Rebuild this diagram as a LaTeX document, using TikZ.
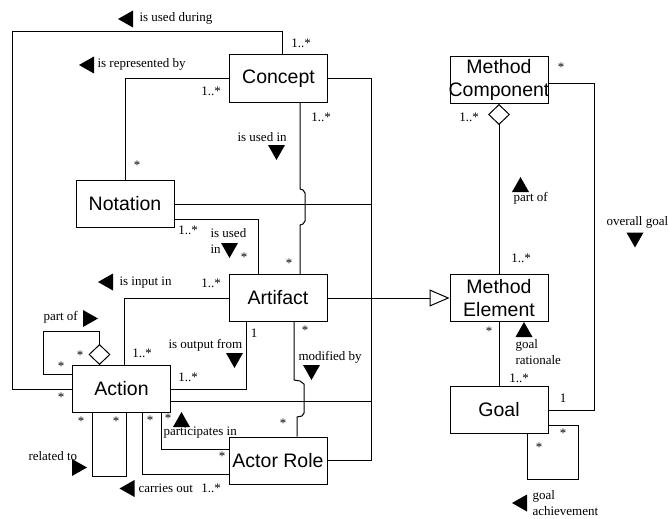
\documentclass[tikz,border=0pt]{standalone}
\usepackage{fontspec}
\setmainfont{Liberation Serif}
\setsansfont{Liberation Sans}
\usetikzlibrary{calc,arrows.meta}

\begin{document}
\begin{tikzpicture}[x=1pt,y=-1pt,line width=1pt,
		cls/.style={draw,fill=white,font=\sffamily\fontsize{19.5}{23}\selectfont,minimum width=98pt,minimum height=47pt,inner sep=0pt,align=center},
		lbl/.style={font=\fontsize{13}{15.5}\selectfont,inner sep=0pt,anchor=west,align=left},
		mul/.style={font=\fontsize{13}{15}\selectfont,inner sep=0pt},
		pics/pointer/.style={code={\fill[rotate=#1] (-7.5,0) -- (7.5,-8.5) -- (7.5,8.5) -- cycle;}},
		agg/.style={{Diamond[open,length=21pt,width=22pt]}-},
		gen/.style={-{Triangle[open,length=20pt,width=17pt]}}]
			\useasboundingbox (0,0) rectangle (669,519);
			
			\node[cls] (concept) at (278.5,78.5) {Concept};
			\node[cls] (notation) at (125,204) {Notation};
			\node[cls] (artifact) at (278,298) {Artifact};
			\node[cls] (action) at (121.5,389) {Action};
			\node[cls] (actor) at (278,460.5) {Actor Role};
			\node[cls] (mcomp) at (499,80) {Method\\\makebox[90pt]{Component}};
			\node[cls] (melem) at (499,298) {Method\\Element};
			\node[cls] (goal) at (499,410) {Goal};
			
			\coordinate (bus) at (371,0);
			\coordinate (og) at (594,83);
			\coordinate (actR) at ([yshift=-12pt]action.east);
			
			\draw ([xshift=3.5pt]concept.north) |- (12,32) |- (action.west);
			\draw (concept.west) -| (notation.north);
			\draw (concept.east) -| (actor.east -| bus) -- (actor.east);
			\draw ([xshift=21.5pt]concept.south) -- (300,189) -- ++(3,1) -- ++(2,3) -- ++(0,28) -- ++(-2,3) -- ++(-3,1) -- ([xshift=22pt]artifact.north);
			\draw (notation.east) -- (notation.east -| bus);
			\draw ([yshift=-15pt]notation.east) -| ([xshift=-20pt]artifact.north);
			\draw[gen] (artifact.east) -- (melem.west);
			\draw (artifact.west) -| ([xshift=2.5pt]action.north);
			\draw ([xshift=-32pt]artifact.south) |- (action.east);
			\draw ([xshift=16pt]artifact.south) -- (294,380) -- ++(6,1) -- ++(4,3) -- ++(0,29) -- ++(-2,3) -- ++(-5,1) -- ([xshift=19pt]actor.north);
			\draw[agg] ([xshift=-22pt]action.north) |- (43,331) |- ([yshift=15pt]action.west);
			\draw (actR) -- (actR -| bus);
			\draw ([xshift=-29.5pt]action.south) -- ++(0,63) -| ([xshift=4.5pt]action.south);
			\draw ([xshift=20.5pt]action.south) |- ([yshift=-13.5pt]actor.west);
			\draw ([xshift=39.5pt]action.south) |- ([yshift=11.5pt]actor.west);
			
			\draw[agg] (mcomp.south) -- (melem.north);
			\draw (melem.south) -- (goal.north);
			\draw ([yshift=-3pt]mcomp.east) -- (og) |- (goal.east);
			\draw ([xshift=28pt]goal.south) |- (578,479) |- ([yshift=-15pt]goal.east);
			
			% multiplicities
			\node[mul] at (301,43) {1..*};
			\node[mul] at (211,91) {1..*};
			\node[mul] at (137,165) {*};
			\node[mul] at (321,117) {1..*};
			\node[mul] at (188,230) {1..*};
			\node[mul] at (244,257) {*};
			\node[mul] at (289,263) {*};
			\node[mul] at (211,283) {1..*};
			\node[mul] at (142,353) {1..*};
			\node[mul] at (80,355) {*};
			\node[mul] at (61,366) {*};
			\node[mul] at (61,397) {*};
			\node[mul] at (254,333) {1};
			\node[mul] at (188,377) {1..*};
			\node[mul] at (305,330) {*};
			\node[mul] at (283,423) {*};
			\node[mul] at (81,421) {*};
			\node[mul] at (116,421) {*};
			\node[mul] at (150,420) {*};
			\node[mul] at (168,418) {*};
			\node[mul] at (222,456) {*};
			\node[mul] at (211,488) {1..*};
			\node[mul] at (561,67) {*};
			\node[mul] at (469,117) {1..*};
			\node[mul] at (521,258) {1..*};
			\node[mul] at (489,331) {*};
			\node[mul] at (519,378) {1..*};
			\node[mul] at (563,398) {1};
			\node[mul] at (563,433) {*};
			\node[mul] at (539,447) {*};
			
			% role names
			\node[lbl] at (139,18) {is used during};
			\pic at (125.5,19) {pointer=0};
			\node[lbl] at (97,64) {is represented by};
			\pic at (86.5,65) {pointer=0};
			\node[lbl] at (237,137) {is used in};
			\pic at (276.5,152.5) {pointer=90};
			\node[lbl] at (210,241) {is used\\in};
			\pic at (229.5,250.5) {pointer=90};
			\node[lbl] at (119,283) {is input in};
			\pic at (105.5,282) {pointer=0};
			\node[lbl] at (43,317) {part of};
			\pic at (90.5,318.5) {pointer=180};
			\node[lbl] at (168,345) {is output from};
			\pic at (234.5,360.5) {pointer=90};
			\node[lbl] at (298,357) {modified by};
			\pic at (311.5,372.5) {pointer=90};
			\node[lbl] at (28,456) {related to};
			\pic at (79.5,467.5) {pointer=180};
			\node[lbl] at (163,433) {participates in};
			\pic at (181.5,419.5) {pointer=-90};
			\node[lbl] at (138,488) {carries out};
			\pic at (127,488.5) {pointer=0};
			\node[lbl] at (513,198) {part of};
			\pic at (520.5,184.5) {pointer=-90};
			\node[lbl] at (606,222) {overall goal};
			\pic at (635,240) {pointer=90};
			\node[lbl] at (515,352) {goal\\rationale};
			\pic at (524,329.5) {pointer=-90};
			\node[lbl] at (532,503) {goal\\achievement};
			\pic at (519.5,503) {pointer=0};
		\end{tikzpicture}
\end{document}
